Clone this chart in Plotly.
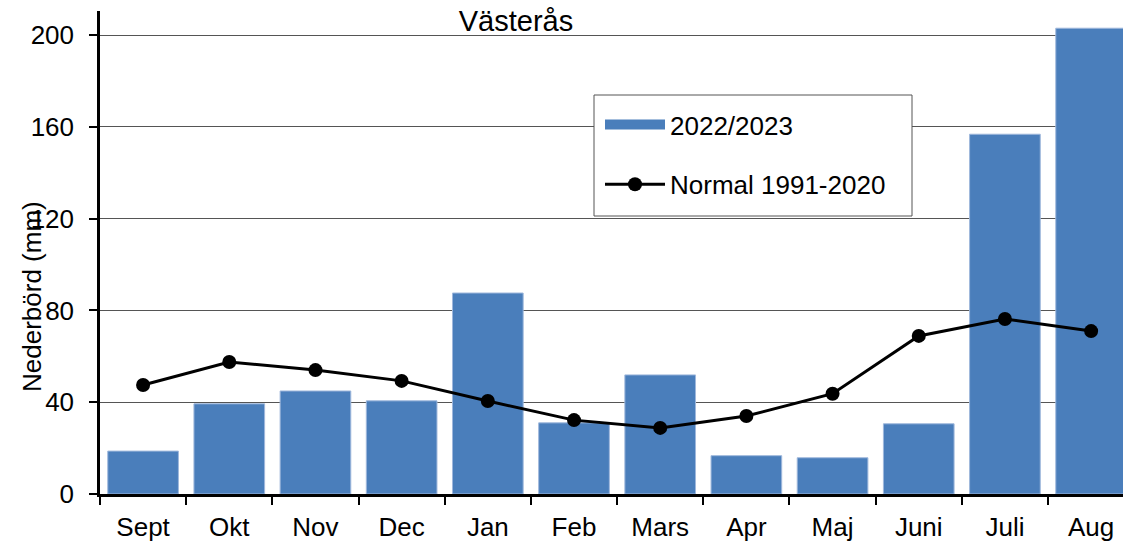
import plotly.graph_objects as go

# Monthly precipitation, Västerås (mm)
months = ["Sept", "Okt", "Nov", "Dec", "Jan", "Feb", "Mars", "Apr", "Maj", "Juni", "Juli", "Aug"]
precip_2022_2023 = [18.7, 39.3, 44.9, 40.6, 87.6, 31.0, 51.9, 16.7, 15.8, 30.6, 156.8, 203.0]
normal_1991_2020 = [47.5, 57.5, 54.0, 49.3, 40.5, 32.2, 28.8, 34.0, 43.7, 68.9, 76.3, 71.0]

FONT = "Liberation Sans, Arial, sans-serif"
BAR_COLOR = "#4a7ebb"

W, H = 1123, 547
PLOT_L, PLOT_R, PLOT_T, PLOT_B = 100, 1123, 11, 494   # plot area in page pixels
M_L, M_R, M_T, M_B = PLOT_L, W - PLOT_R, PLOT_T, H - PLOT_B
PW, PH = PLOT_R - PLOT_L, PLOT_B - PLOT_T


def px_to_paper(x, y):
    """Convert page pixel coords to paper coords of the plot area."""
    return (x - PLOT_L) / PW, (PLOT_B - y) / PH


fig = go.Figure()
fig.add_trace(go.Bar(
    x=months, y=precip_2022_2023, name="2022/2023",
    marker=dict(color=BAR_COLOR, line=dict(color="#9fb8dc", width=1)),
    width=0.82, showlegend=False,
))
# legend-only entry so the swatch is a wide flat bar like the original
fig.add_trace(go.Scatter(
    x=[None], y=[None], name="2022/2023", mode="lines",
    line=dict(color=BAR_COLOR, width=10), legendgroup="a",
))
fig.add_trace(go.Scatter(
    x=months, y=normal_1991_2020, name="Normal 1991-2020",
    mode="lines+markers", line=dict(color="black", width=3),
    marker=dict(color="black", size=14), legendgroup="b",
))

# legend box (white, covers gridlines)
bx0, by0 = px_to_paper(594, 216)
bx1, by1 = px_to_paper(912, 95)
fig.add_shape(type="rect", xref="paper", yref="paper", x0=bx0, y0=by0, x1=bx1, y1=by1,
              line=dict(color="#555555", width=1), fillcolor="white", layer="above")

lx, ly = px_to_paper(600, 101)

# y axis title sits lower than the plot centre in the original
tx, ty = px_to_paper(32, 297)
fig.add_annotation(text="Nederbörd (mm)", xref="paper", yref="paper", x=tx, y=ty,
                   xanchor="center", yanchor="middle",
                   textangle=-90, showarrow=False, font=dict(size=26, color="black", family=FONT))

fig.update_layout(
    width=W, height=H,
    margin=dict(l=M_L, r=M_R, t=M_T, b=M_B),
    plot_bgcolor="white", paper_bgcolor="white",
    font=dict(family=FONT, size=26, color="black"),
    title=dict(text="Västerås", x=516 / W, xanchor="center", y=1 - 21 / H,
               yanchor="middle", font=dict(size=29, family=FONT, color="black")),
    legend=dict(x=lx, y=ly, xanchor="left", yanchor="top", bgcolor="rgba(0,0,0,0)",
                borderwidth=0, font=dict(size=26), tracegroupgap=23, itemwidth=60),
    xaxis=dict(
        range=[-0.5, 11.37], showline=True, linecolor="black", linewidth=2.5,
        ticks="outside", tickson="boundaries", ticklen=8, tickwidth=2, tickcolor="black",
        showgrid=False, fixedrange=True, ticklabelstandoff=8,
    ),
    yaxis=dict(
        range=[0, 210.5], dtick=40, showline=True, linecolor="black", linewidth=2.5,
        ticks="outside", ticklen=8, tickwidth=2, tickcolor="black",
        showgrid=True, gridcolor="#555555", gridwidth=1, zeroline=False,
        ticklabelstandoff=10,
    ),
)

# drop the default 8px body margin so the figure fills the window exactly
fig.write_html("out.html", config={"displayModeBar": False},
               post_script="document.body.style.margin = '0';")
